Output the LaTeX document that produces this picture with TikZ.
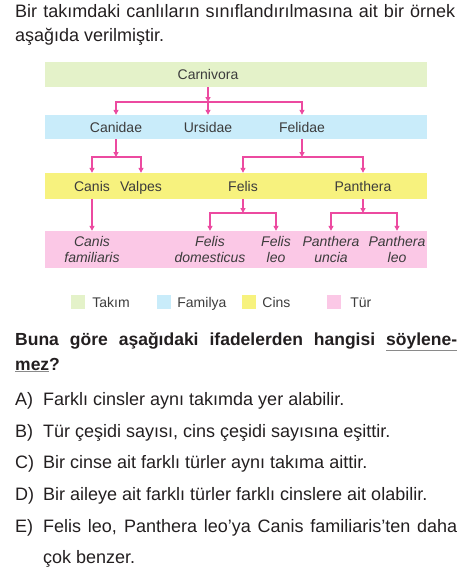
\documentclass[tikz,border=0pt]{standalone}
\usepackage{fontspec}
\setmainfont{Liberation Sans}
\usetikzlibrary{arrows.meta,positioning}
\definecolor{ink}{HTML}{231F20}
\definecolor{labelink}{HTML}{3C3C3C}
\definecolor{takim}{HTML}{E4F2C9}
\definecolor{familya}{HTML}{C9ECFA}
\definecolor{cins}{HTML}{F7F27E}
\definecolor{tur}{HTML}{FBC8E6}
\definecolor{okpembe}{HTML}{EC4AA0}
\definecolor{cizgi}{HTML}{8A8A8A}
\newcommand{\govde}{\fontsize{18}{24}\selectfont}
\newcommand{\sema}{\fontsize{14}{16}\selectfont}
\newcommand{\altcizgi}[1]{{\color{cizgi}\underline{\color{ink}#1}}}

\tikzset{
  taxon/.style={font=\sema,text=labelink,inner sep=0pt,anchor=center,text height=10pt,text depth=0pt},
  species/.style={font=\sema\itshape,text=labelink,inner sep=0pt,anchor=center,align=center},
  ok/.style={draw=okpembe,line width=1.2pt,-{Triangle[length=5pt,width=5pt]}},
  kutu/.style={minimum size=14pt,inner sep=0pt,draw=none},
  lejant/.style={font=\sema,text=labelink,inner sep=0pt,text height=10pt,text depth=0pt},
  satir/.style={font=\govde,text=ink,inner sep=0pt,anchor=base west},
}

\begin{document}
\begin{tikzpicture}[x=1pt,y=-1pt]
\useasboundingbox (0,0) rectangle (464,574);
\node[satir,text width=440pt,align=justify] (giris) at (15,17) {Bir takımdaki canlıların sınıflandırılmasına ait bir örnek\linebreak aşağıda verilmiştir.};
% seviye bantlari
\fill[takim] (45,62) rectangle (427,87);
\fill[familya] (45,115) rectangle (427,139);
\fill[cins] (45,173) rectangle (427,199);
\fill[tur] (45,231) rectangle (427,268);
% takim ve familyalar
\node[taxon,minimum height=25pt] (carnivora) at (208,74.5) {Carnivora};
\node[taxon,minimum height=24pt] (canidae) at (116,127) {Canidae};
\node[taxon,minimum height=24pt] (ursidae) at (208,127) {Ursidae};
\node[taxon,minimum height=24pt] (felidae) at (302,127) {Felidae};
% cinsler
\node[taxon,minimum height=26pt] (canis) at (92,186) {Canis};
\node[taxon,minimum height=26pt] (valpes) at (141,186) {Valpes};
\node[taxon,minimum height=26pt] (felis) at (243,186) {Felis};
\node[taxon,minimum height=26pt] (panthera) at (363,186) {Panthera};
% turler
\node[species,minimum height=37pt] (canisfam) at (92,249.5) {Canis\\familiaris};
\node[species,minimum height=37pt] (felisdom) at (210,249.5) {Felis\\domesticus};
\node[species,minimum height=37pt] (felisleo) at (276,249.5) {Felis\\leo};
\node[species,minimum height=37pt] (panthunc) at (331,249.5) {Panthera\\uncia};
\node[species,minimum height=37pt] (panthleo) at (397,249.5) {Panthera\\leo};
% dallanma noktalari
\coordinate (j1) at (208,102);
\coordinate (j2) at (116,157);
\coordinate (j3) at (302,157);
\coordinate (j4) at (243,213);
\coordinate (j5) at (363,213);
% oklar
\draw[ok] (carnivora.south) -- (j1);
\draw[ok] (j1) -| (canidae.north);
\draw[ok] (j1) -- (ursidae.north);
\draw[ok] (j1) -| (felidae.north);
\draw[ok] (canidae.south) -- (j2);
\draw[ok] (j2) -| (canis.north);
\draw[ok] (j2) -| (valpes.north);
\draw[ok] (felidae.south) -- (j3);
\draw[ok] (j3) -| (felis.north);
\draw[ok] (j3) -| (panthera.north);
\draw[ok] (canis.south) -- (canisfam.north);
\draw[ok] (felis.south) -- (j4);
\draw[ok] (j4) -| (felisdom.north);
\draw[ok] (j4) -| (felisleo.north);
\draw[ok] (panthera.south) -- (j5);
\draw[ok] (j5) -| (panthunc.north);
\draw[ok] (j5) -| (panthleo.north);
% lejant
\node[kutu,fill=takim] (lg1) at (78,302) {};
\node[lejant,right=7pt of lg1] {Takım};
\node[kutu,fill=familya] (lg2) at (164,302) {};
\node[lejant,right=6pt of lg2] {Familya};
\node[kutu,fill=cins] (lg3) at (249,302) {};
\node[lejant,right=6pt of lg3] {Cins};
\node[kutu,fill=tur] (lg4) at (334,302) {};
\node[lejant,right=9pt of lg4] {Tür};
% soru
\node[satir,font=\fontsize{17.5}{25}\selectfont\bfseries,text width=442pt,align=justify] (soru) at (15,345) {Buna göre aşağıdaki ifadelerden hangisi \altcizgi{söylene-}\linebreak \altcizgi{mez}?};
% secenekler
\node[satir] (a) at (15,405) {A)};
\node[satir,text width=414pt,align=justify] at (43,405) {Farklı cinsler aynı takımda yer alabilir.};
\node[satir] (b) at (15,437) {B)};
\node[satir,text width=414pt,align=justify] at (43,437) {Tür çeşidi sayısı, cins çeşidi sayısına eşittir.};
\node[satir] (c) at (15,468) {C)};
\node[satir,text width=414pt,align=justify] at (43,468) {Bir cinse ait farklı türler aynı takıma aittir.};
\node[satir] (d) at (15,500) {D)};
\node[satir,text width=414pt,align=justify] at (43,500) {Bir aileye ait farklı türler farklı cinslere ait olabilir.};
\node[satir] (e) at (15,532) {E)};
\node[satir,font=\fontsize{18}{31}\selectfont,text width=414pt,align=justify] at (43,532) {Felis leo, Panthera leo’ya Canis familiaris’ten daha\linebreak çok benzer.};
\end{tikzpicture}
\end{document}
